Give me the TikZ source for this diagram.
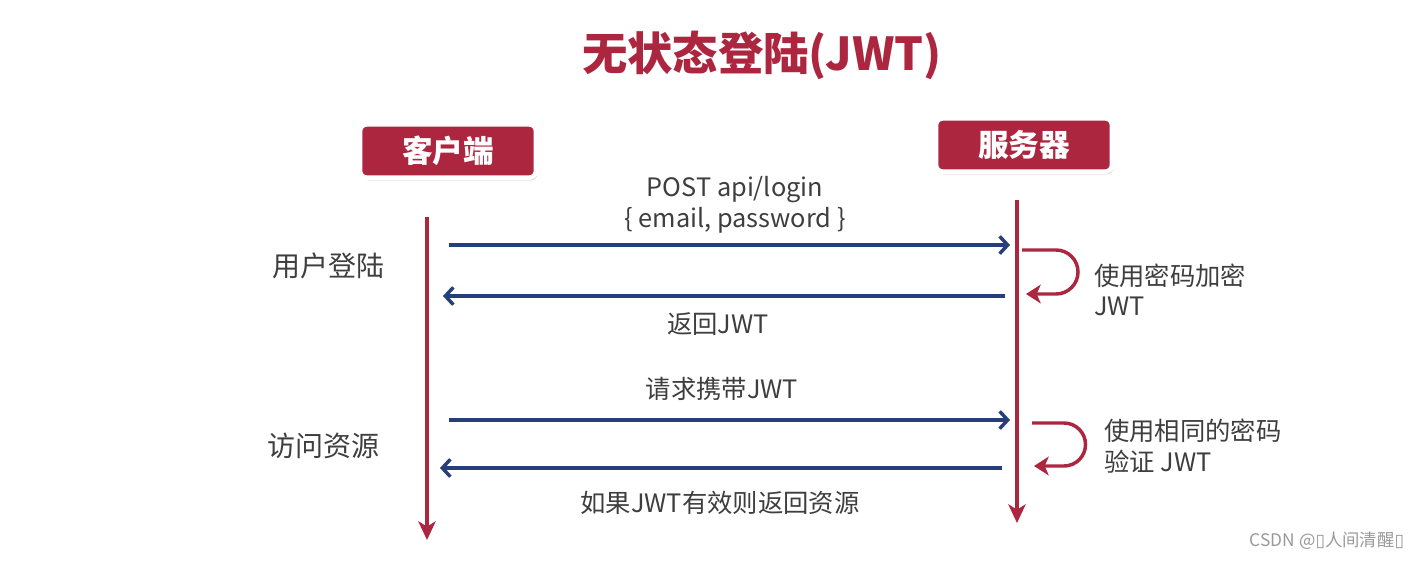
\documentclass[tikz,border=0pt]{standalone}
\usepackage{fontspec}
\setmainfont{Noto Sans CJK SC}
\newfontfamily\boxfont{DejaVu Sans}
\usepackage{tikz}
\usetikzlibrary{arrows.meta,shadows}
\definecolor{jwtred}{RGB}{172,38,64}
\definecolor{jwtblue}{RGB}{38,62,122}
\definecolor{jwtgray}{RGB}{62,62,62}

\begin{document}
\begin{tikzpicture}[x=0.75pt,y=-0.75pt,line width=2.6pt,text=jwtgray,
                    font=\fontsize{19}{23}\selectfont]
    \tikzstyle{party}=[fill=jwtred,draw=white,line width=3.5pt,rounded corners=5pt,
                       text=white,font=\fontsize{23}{28}\selectfont\bfseries,
                       minimum width=132pt,minimum height=40pt,
                       drop shadow={shadow xshift=1pt,shadow yshift=-2pt,opacity=0.45}]
    \tikzstyle{life}=[draw=jwtred,-{Stealth[length=14pt,width=13pt,inset=4pt]}]
    \tikzstyle{msg}=[draw=jwtblue,-{Straight Barb[length=6pt,width=13pt,line width=2.6pt]}]
    \tikzstyle{self}=[draw=jwtred,-{Stealth[length=11pt,width=14pt,inset=3pt]}]
    \tikzstyle{side}=[font=\fontsize{21}{25}\selectfont]
    \useasboundingbox (0,0) rectangle (1426,561);

    \node[font=\fontsize{34}{38}\selectfont\bfseries,text=jwtred] (title) at (762,55) {无状态登陆(JWT)};

    \node[party] (client) at (448,151) {客户端};
    \node[party] (server) at (1024,145) {服务器};

    % lifelines
    \coordinate (c0) at (427,217);
    \coordinate (c1) at (427,540);
    \coordinate (s0) at (1017,200);
    \coordinate (s1) at (1017,523);
    \draw[life] (c0) -- (c1);
    \draw[life] (s0) -- (s1);

    % login
    \node[side] (login) at (328,266) {用户登陆};
    \coordinate (m1a) at (449,245);
    \coordinate (m1b) at (1010,245);
    \coordinate (m2a) at (1005,296);
    \coordinate (m2b) at (443,296);
    \draw[msg] (m1a) -- (m1b);
    \draw[msg] (m2a) -- (m2b);
    \node[align=center] (post) at (735,205) {POST api/login\\\{ email, password \}};
    \node (ret) at (718,324) {返回JWT};

    \coordinate (l1a) at (1022,250);
    \coordinate (l1b) at (1026,294);
    \draw[self] (l1a) -- ++(34,0) arc[start angle=-90,end angle=90,radius=22] -- (l1b);
    \node[align=left,anchor=west] (enc) at (1088,290) {使用密码加密\\JWT};

    % resource
    \node[side] (res) at (323,446) {访问资源};
    \coordinate (m3a) at (449,420);
    \coordinate (m3b) at (1010,420);
    \coordinate (m4a) at (1002,468);
    \coordinate (m4b) at (440,468);
    \draw[msg] (m3a) -- (m3b);
    \draw[msg] (m4a) -- (m4b);
    \node (req) at (722,389) {请求携带JWT};
    \node (ok) at (720,503) {如果JWT有效则返回资源};

    \coordinate (l2a) at (1032,423);
    \coordinate (l2b) at (1034,466);
    \draw[self] (l2a) -- ++(32,0) arc[start angle=-90,end angle=90,radius=21.5] -- (l2b);
    \node[align=left,anchor=west] (ver) at (1098,446) {使用相同的密码\\验证 JWT};

    \node[text=black!40,font=\fontsize{13}{15}\selectfont] (mark) at (1327,541)
        {CSDN @{\boxfont ▯}人间清醒{\boxfont ▯}};
\end{tikzpicture}
\end{document}
